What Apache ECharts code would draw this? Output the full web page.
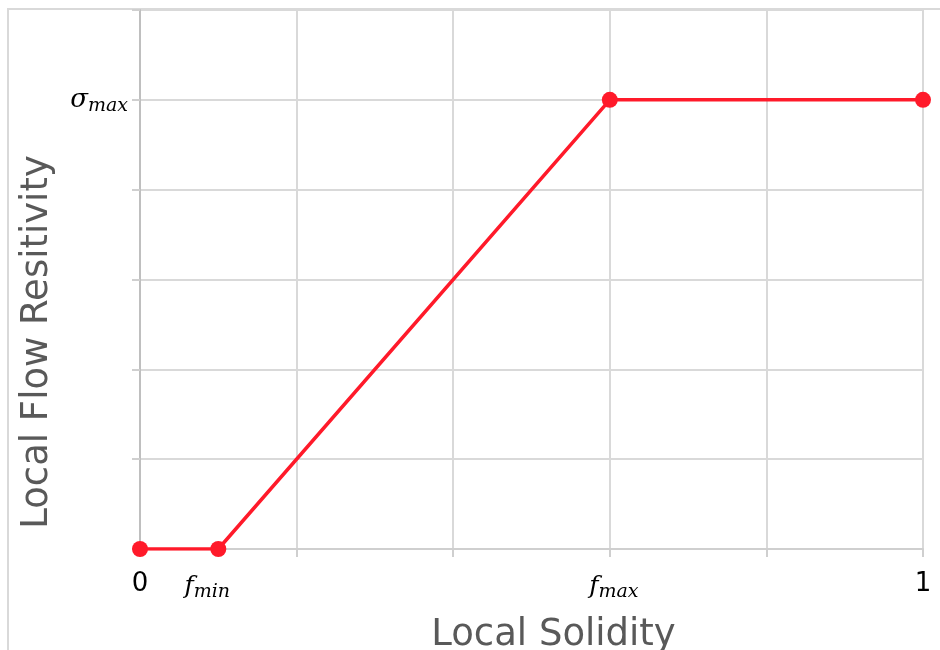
<!DOCTYPE html>
<html>
<head>
<meta charset="utf-8">
<script src="https://cdn.jsdelivr.net/npm/echarts@6/dist/echarts.min.js"></script>
<style>html,body{margin:0;padding:0;background:#fff}#c{width:940px;height:650px}</style>
</head>
<body>
<div id="c"></div>
<script>
// Data
var solidity = [0, 0.1, 0.6, 1];
var resistivity = [0, 0, 5, 5];
var xTickValues = [0, 0.1, 0.6, 1];
var xTickLabels = ['{n|0}', '{f|f}{sub|min}{sp|}', '{sp2|}{f|f}{sub|max}', '{n|1}'];
var yTickValue = 5;
var yTickLabel = '{s|σ}{sub|max}';

var chart = echarts.init(document.getElementById('c'));
var serifRich = {
  n: {fontFamily: 'DejaVu Sans', fontSize: 26, color: '#000', padding: [0, 0, 4, 0]},
  f: {fontFamily: 'DejaVu Serif', fontStyle: 'italic', fontSize: 25, color: '#000'},
  s: {fontFamily: 'DejaVu Serif', fontStyle: 'italic', fontSize: 26, color: '#000'},
  sub: {fontFamily: 'DejaVu Serif', fontStyle: 'italic', fontSize: 19, color: '#000', padding: [12, 0, 0, 0]},
  sp: {width: 22},
  sp2: {width: 8}
};
chart.setOption({
  animation: false,
  backgroundColor: '#fff',
  graphic: [{
    type: 'rect', z: -1,
    shape: {x: 8, y: 9, width: 1000, height: 1000},
    style: {fill: 'none', stroke: '#d9d9d9', lineWidth: 2}
  }],
  grid: {left: 140, right: 17, top: 10, bottom: 101, outerBoundsMode: 'none', containLabel: false},
  xAxis: {
    type: 'value', min: 0, max: 1, interval: 0.2,
    name: 'Local Solidity', nameLocation: 'middle', nameGap: 68,
    nameTextStyle: {fontFamily: 'DejaVu Sans', fontSize: 37, color: '#595959', padding: [0, 0, 0, 44]},
    axisLine: {lineStyle: {color: '#cfcfcf', width: 2}},
    axisTick: {show: true, length: 8, lineStyle: {color: '#cfcfcf', width: 2}},
    splitLine: {show: true, lineStyle: {color: '#d9d9d9', width: 2}},
    axisLabel: {
      customValues: xTickValues,
      margin: 22,
      fontFamily: 'DejaVu Sans', fontSize: 26, color: '#000',
      formatter: function (v) {
        for (var i = 0; i < xTickValues.length; i++) {
          if (Math.abs(v - xTickValues[i]) < 1e-9) return xTickLabels[i];
        }
        return '';
      },
      rich: serifRich
    }
  },
  yAxis: {
    type: 'value', min: 0, max: 6, interval: 1,
    name: 'Local Flow Resitivity', nameLocation: 'middle', nameGap: 84,
    nameTextStyle: {fontFamily: 'DejaVu Sans', fontSize: 37, color: '#595959', padding: [0, 125, 0, 0]},
    axisLine: {show: true, lineStyle: {color: '#bfbfbf', width: 2}},
    axisTick: {show: true, length: 8, lineStyle: {color: '#cfcfcf', width: 2}},
    splitLine: {show: true, lineStyle: {color: '#d9d9d9', width: 2}},
    axisLabel: {
      margin: 12,
      formatter: function (v) { return v === yTickValue ? yTickLabel : ''; },
      rich: serifRich
    }
  },
  series: [{
    type: 'line',
    data: solidity.map(function (x, i) { return [x, resistivity[i]]; }),
    symbol: 'circle', symbolSize: 16,
    lineStyle: {color: '#ff1a2a', width: 3.5},
    itemStyle: {color: '#ff1a2a'}
  }]
});
</script>
</body>
</html>
